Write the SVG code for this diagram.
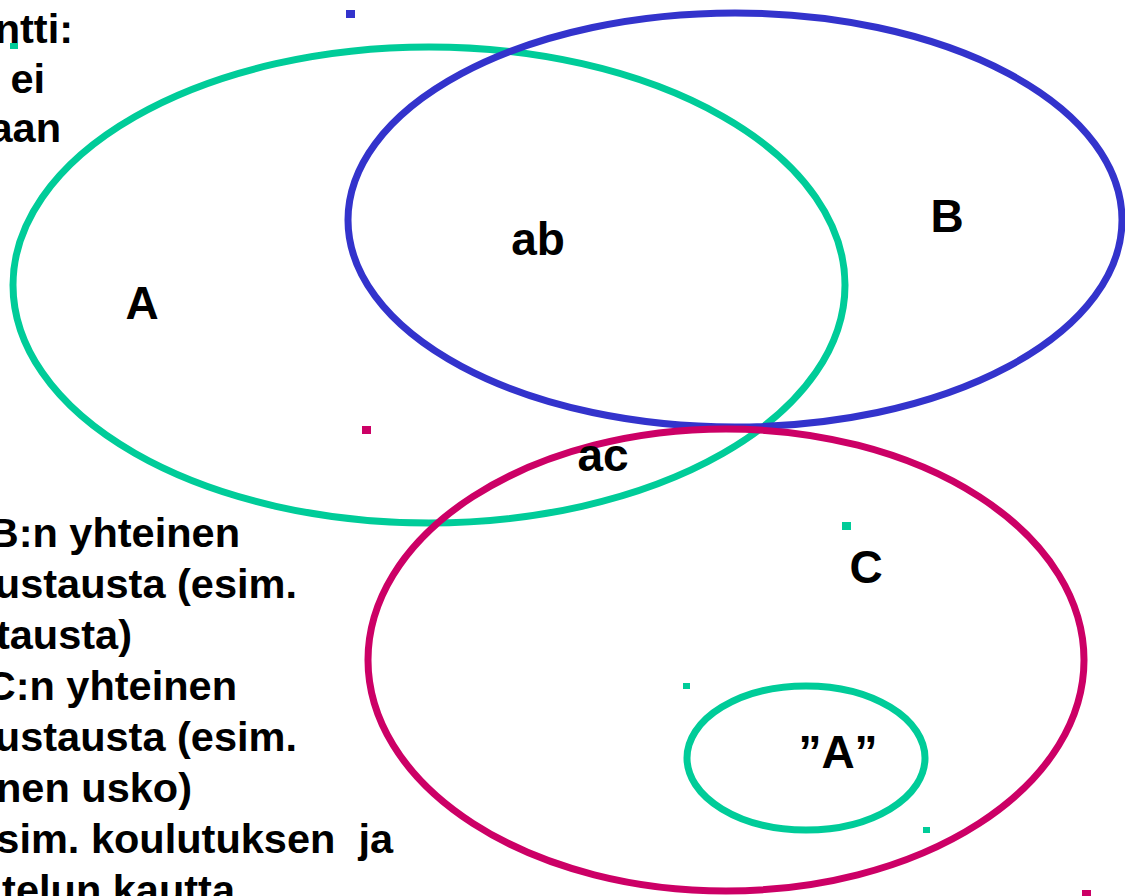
<svg xmlns="http://www.w3.org/2000/svg" width="1125" height="896" viewBox="0 0 1125 896">
<style>
.body{font-family:"Liberation Sans",Arial,sans-serif;font-weight:bold;font-size:41.5px;fill:#000;text-anchor:end}
.lbl{font-family:"Liberation Sans",Arial,sans-serif;font-weight:bold;font-size:46px;fill:#000;text-anchor:middle}
.ring{fill:none;stroke-width:7}
.g{stroke:#00CC99}
.b{stroke:#3333CC}
.m{stroke:#CC0066}
</style>
<rect width="1125" height="896" fill="#fff"/>
<g id="text-top">
<text class="body" x="73" y="43">ntti:</text>
<text class="body" x="45" y="93">ei</text>
<text class="body" x="61" y="142">aan</text>
</g>
<g id="text-bottom">
<text class="body" x="240" y="547">B:n yhteinen</text>
<text class="body" x="297" y="598">ustausta (esim.</text>
<text class="body" x="132" y="649">tausta)</text>
<text class="body" x="237" y="700">C:n yhteinen</text>
<text class="body" x="297" y="751">ustausta (esim.</text>
<text class="body" x="192" y="802">nen usko)</text>
<text class="body" x="393" y="853" xml:space="preserve">sim. koulutuksen  ja</text>
<text class="body" x="235" y="904">telun kautta</text>
</g>
<g id="set-A">
<ellipse class="ring g" cx="429" cy="285" rx="416" ry="238"/>
<text class="lbl" x="142" y="319">A</text>
</g>
<g id="set-B">
<ellipse class="ring b" cx="735" cy="220" rx="387" ry="207"/>
<text class="lbl" x="947" y="232">B</text>
</g>
<g id="set-C">
<ellipse class="ring m" cx="726" cy="660" rx="358" ry="231"/>
<text class="lbl" x="866" y="583">C</text>
</g>
<g id="set-A-inner">
<ellipse class="ring g" cx="806" cy="758" rx="119" ry="72" stroke-width="5"/>
<text class="lbl" x="838" y="768">”A”</text>
</g>
<g id="labels">
<text class="lbl" x="538" y="255">ab</text>
<text class="lbl" x="603" y="471">ac</text>
</g>
<g id="markers">
<rect x="10" y="43" width="8" height="6" fill="#00CC99"/>
<rect x="346" y="10" width="9" height="8" fill="#3333CC"/>
<rect x="362" y="426" width="9" height="8" fill="#CC0066"/>
<rect x="842" y="522" width="9" height="8" fill="#00CC99"/>
<rect x="683" y="683" width="7" height="6" fill="#00CC99"/>
<rect x="923" y="827" width="7" height="6" fill="#00CC99"/>
<rect x="1082" y="890" width="9" height="6" fill="#CC0066"/>
</g>
<g id="connectors"/>
</svg>
